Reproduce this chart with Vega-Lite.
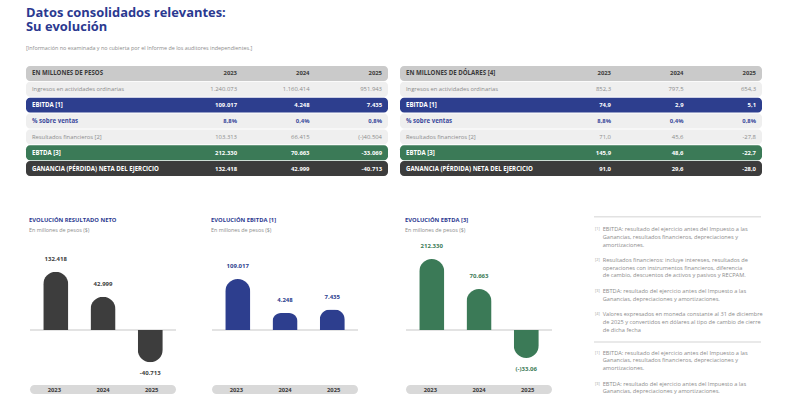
{
  "$schema": "https://vega.github.io/schema/vega-lite/v6.json",
  "padding": {"left": 26, "top": 6, "right": 0, "bottom": 0},
  "background": "white",
  "config": {"view": {"stroke": null}, "font": "Open Sans"},
  "title": {
    "text": ["Datos consolidados relevantes:", "Su evolución"],
    "subtitle": "[Información no examinada y no cubierta por el Informe de los auditores independientes.]",
    "anchor": "start",
    "font": "Open Sans", "fontSize": 12.9, "fontWeight": "bold", "lineHeight": 14, "color": "#2b3990",
    "subtitleFont": "Open Sans", "subtitleFontSize": 5.4, "subtitleColor": "#8c8c8c", "subtitlePadding": 12,
    "offset": 15
  },
  "datasets": {
    "tab": [
      {"t": "p", "k": "h", "label": "EN MILLONES DE PESOS", "2023": "2023", "2024": "2024", "2025": "2025"},
      {"t": "p", "k": "ing", "label": "Ingresos en actividades ordinarias", "2023": "1.240.073", "2024": "1.160.414", "2025": "951.943"},
      {"t": "p", "k": "ebitda", "label": "EBITDA [1]", "2023": "109.017", "2024": "4.248", "2025": "7.435"},
      {"t": "p", "k": "pct", "label": "% sobre ventas", "2023": "8,8%", "2024": "0,4%", "2025": "0,8%"},
      {"t": "p", "k": "rf", "label": "Resultados financieros [2]", "2023": "103.313", "2024": "66.415", "2025": "(-)40.504"},
      {"t": "p", "k": "ebtda", "label": "EBTDA [3]", "2023": "212.330", "2024": "70.663", "2025": "-33.069"},
      {"t": "p", "k": "gan", "label": "GANANCIA (PÉRDIDA) NETA DEL EJERCICIO", "2023": "132.418", "2024": "42.999", "2025": "-40.713"},
      {"t": "d", "k": "h", "label": "EN MILLONES DE DÓLARES [4]", "2023": "2023", "2024": "2024", "2025": "2025"},
      {"t": "d", "k": "ing", "label": "Ingresos en actividades ordinarias", "2023": "852,3", "2024": "797,5", "2025": "654,3"},
      {"t": "d", "k": "ebitda", "label": "EBITDA [1]", "2023": "74,9", "2024": "2,9", "2025": "5,1"},
      {"t": "d", "k": "pct", "label": "% sobre ventas", "2023": "8,8%", "2024": "0,4%", "2025": "0,8%"},
      {"t": "d", "k": "rf", "label": "Resultados financieros [2]", "2023": "71,0", "2024": "45,6", "2025": "-27,8"},
      {"t": "d", "k": "ebtda", "label": "EBTDA [3]", "2023": "145,9", "2024": "48,6", "2025": "-22,7"},
      {"t": "d", "k": "gan", "label": "GANANCIA (PÉRDIDA) NETA DEL EJERCICIO", "2023": "91,0", "2024": "29,6", "2025": "-28,0"}
    ],
    "bars": [
      {"c": "neto", "year": "2023", "v": 132418, "lbl": "132.418"},
      {"c": "neto", "year": "2024", "v": 42999, "lbl": "42.999"},
      {"c": "neto", "year": "2025", "v": -40713, "lbl": "-40.713"},
      {"c": "ebitda", "year": "2023", "v": 109017, "lbl": "109.017"},
      {"c": "ebitda", "year": "2024", "v": 4248, "lbl": "4.248"},
      {"c": "ebitda", "year": "2025", "v": 7435, "lbl": "7.435"},
      {"c": "ebtda", "year": "2023", "v": 212330, "lbl": "212.330"},
      {"c": "ebtda", "year": "2024", "v": 70663, "lbl": "70.663"},
      {"c": "ebtda", "year": "2025", "v": -33069, "lbl": "(-)33.06"}
    ],
    "notes": [
      {"ln": 0, "mk": "[1]", "txt": "EBITDA: resultado del ejercicio antes del Impuesto a las"},
      {"ln": 1, "txt": "Ganancias, resultados financieros, depreciaciones y"},
      {"ln": 2, "txt": "amortizaciones."},
      {"ln": 4, "mk": "[2]", "txt": "Resultados financieros: incluye intereses, resultados de"},
      {"ln": 5, "txt": "operaciones con instrumentos financieros, diferencia"},
      {"ln": 6, "txt": "de cambio, descuentos de activos y pasivos y RECPAM."},
      {"ln": 8, "mk": "[3]", "txt": "EBTDA: resultado del ejercicio antes del Impuesto a las"},
      {"ln": 9, "txt": "Ganancias, depreciaciones y amortizaciones."},
      {"ln": 11, "mk": "[4]", "txt": "Valores expresados en moneda constante al 31 de diciembre"},
      {"ln": 12, "txt": "de 2025 y convertidos en dólares al tipo de cambio de cierre"},
      {"ln": 13, "txt": "de dicha fecha"},
      {"ln": 16, "mk": "[1]", "txt": "EBITDA: resultado del ejercicio antes del Impuesto a las"},
      {"ln": 17, "txt": "Ganancias, resultados financieros, depreciaciones y"},
      {"ln": 18, "txt": "amortizaciones."},
      {"ln": 20, "mk": "[3]", "txt": "EBTDA: resultado del ejercicio antes del Impuesto a las"},
      {"ln": 21, "txt": "Ganancias, depreciaciones y amortizaciones."}
    ]
  },
  "spacing": 39,
  "vconcat": [
    {
      "spacing": 12,
      "hconcat": [
        {
          "width": 362, "height": 110,
          "data": {"name": "tab"},
          "transform": [{"filter": "datum.t == 'p'"}],
          "encoding": {"y": {"field": "k", "type": "nominal", "scale": {"domain": ["h", "ing", "ebitda", "pct", "rf", "ebtda", "gan"], "paddingInner": 0.06, "paddingOuter": 0}, "axis": null}},
          "layer": [
            {"mark": {"type": "rect", "cornerRadius": 4}, "encoding": {"x": {"value": 0}, "x2": {"value": "width"}, "fill": {"field": "k", "type": "nominal", "scale": {"domain": ["h", "ing", "ebitda", "pct", "rf", "ebtda", "gan"], "range": ["#cacaca", "#efefef", "#2d3e8e", "#efefef", "#efefef", "#3b7a57", "#3c3c3c"]}, "legend": null}}},
            {"transform": [{"filter": "datum.k != 'ing' && datum.k != 'rf'"}], "mark": {"type": "text", "align": "left", "baseline": "middle", "x": 6, "fontSize": 6.1, "fontWeight": "bold"}, "encoding": {"text": {"field": "label"}, "color": {"field": "k", "type": "nominal", "scale": {"domain": ["h", "ing", "ebitda", "pct", "rf", "ebtda", "gan"], "range": ["#3a3a3a", "#8c8c8c", "#ffffff", "#3b4a9c", "#8c8c8c", "#ffffff", "#ffffff"]}, "legend": null}}},
            {"transform": [{"filter": "datum.k == 'ing' || datum.k == 'rf'"}], "mark": {"type": "text", "align": "left", "baseline": "middle", "x": 6, "fontSize": 5.8}, "encoding": {"text": {"field": "label"}, "color": {"field": "k", "type": "nominal", "legend": null}}},
            {"transform": [{"fold": ["2023", "2024", "2025"], "as": ["year", "val"]}, {"filter": "datum.k != 'ing' && datum.k != 'rf'"}], "mark": {"type": "text", "align": "right", "baseline": "middle", "fontSize": 5.9, "fontWeight": "bold"}, "encoding": {"x": {"field": "year", "type": "ordinal", "scale": {"type": "point", "domain": ["2023", "2024", "2025"], "range": [211, 356], "padding": 0}, "axis": null}, "text": {"field": "val"}, "color": {"field": "k", "type": "nominal", "legend": null}}},
            {"transform": [{"fold": ["2023", "2024", "2025"], "as": ["year", "val"]}, {"filter": "datum.k == 'ing' || datum.k == 'rf'"}], "mark": {"type": "text", "align": "right", "baseline": "middle", "fontSize": 5.9}, "encoding": {"x": {"field": "year", "type": "ordinal", "scale": {"type": "point", "domain": ["2023", "2024", "2025"], "range": [211, 356], "padding": 0}, "axis": null}, "text": {"field": "val"}, "color": {"field": "k", "type": "nominal", "legend": null}}}
          ]
        },
        {
          "width": 362, "height": 110,
          "data": {"name": "tab"},
          "transform": [{"filter": "datum.t == 'd'"}],
          "encoding": {"y": {"field": "k", "type": "nominal", "scale": {"domain": ["h", "ing", "ebitda", "pct", "rf", "ebtda", "gan"], "paddingInner": 0.06, "paddingOuter": 0}, "axis": null}},
          "layer": [
            {"mark": {"type": "rect", "cornerRadius": 4}, "encoding": {"x": {"value": 0}, "x2": {"value": "width"}, "fill": {"field": "k", "type": "nominal", "scale": {"domain": ["h", "ing", "ebitda", "pct", "rf", "ebtda", "gan"], "range": ["#cacaca", "#efefef", "#2d3e8e", "#efefef", "#efefef", "#3b7a57", "#3c3c3c"]}, "legend": null}}},
            {"transform": [{"filter": "datum.k != 'ing' && datum.k != 'rf'"}], "mark": {"type": "text", "align": "left", "baseline": "middle", "x": 6, "fontSize": 6.1, "fontWeight": "bold"}, "encoding": {"text": {"field": "label"}, "color": {"field": "k", "type": "nominal", "scale": {"domain": ["h", "ing", "ebitda", "pct", "rf", "ebtda", "gan"], "range": ["#3a3a3a", "#8c8c8c", "#ffffff", "#3b4a9c", "#8c8c8c", "#ffffff", "#ffffff"]}, "legend": null}}},
            {"transform": [{"filter": "datum.k == 'ing' || datum.k == 'rf'"}], "mark": {"type": "text", "align": "left", "baseline": "middle", "x": 6, "fontSize": 5.8}, "encoding": {"text": {"field": "label"}, "color": {"field": "k", "type": "nominal", "legend": null}}},
            {"transform": [{"fold": ["2023", "2024", "2025"], "as": ["year", "val"]}, {"filter": "datum.k != 'ing' && datum.k != 'rf'"}], "mark": {"type": "text", "align": "right", "baseline": "middle", "fontSize": 5.9, "fontWeight": "bold"}, "encoding": {"x": {"field": "year", "type": "ordinal", "scale": {"type": "point", "domain": ["2023", "2024", "2025"], "range": [211, 356], "padding": 0}, "axis": null}, "text": {"field": "val"}, "color": {"field": "k", "type": "nominal", "legend": null}}},
            {"transform": [{"fold": ["2023", "2024", "2025"], "as": ["year", "val"]}, {"filter": "datum.k == 'ing' || datum.k == 'rf'"}], "mark": {"type": "text", "align": "right", "baseline": "middle", "fontSize": 5.9}, "encoding": {"x": {"field": "year", "type": "ordinal", "scale": {"type": "point", "domain": ["2023", "2024", "2025"], "range": [211, 356], "padding": 0}, "axis": null}, "text": {"field": "val"}, "color": {"field": "k", "type": "nominal", "legend": null}}}
          ]
        }
      ]
    },
    {
      "spacing": 34,
      "hconcat": [
        {
          "spacing": 2,
          "hconcat": [
            {"width": 1, "height": 1, "data": {"values": [{}]}, "mark": {"type": "text", "text": ""}},
            {
              "spacing": 7,
              "vconcat": [
                {
                  "width": 146, "height": 138,
                  "title": {"text": "EVOLUCIÓN RESULTADO NETO", "subtitle": "En millones de pesos ($)", "anchor": "start", "font": "Open Sans", "fontSize": 5.8, "fontWeight": "bold", "color": "#2b3990", "subtitleFont": "Open Sans", "subtitleFontSize": 5.4, "subtitleColor": "#8c8c8c", "subtitlePadding": 5, "offset": 7},
                  "data": {"name": "bars"},
                  "transform": [{"filter": "datum.c == 'neto'"}],
                  "layer": [
                    {"mark": {"type": "rule", "color": "#e3e3e3", "strokeWidth": 2}, "encoding": {"y": {"datum": 0, "type": "quantitative", "scale": {"type": "sqrt", "domain": [-90000, 316406], "nice": false, "zero": false}, "axis": null}}},
                    {"transform": [{"filter": "datum.v >= 0"}], "mark": {"type": "bar", "color": "#3d3d3d", "cornerRadiusTopLeft": 12.5, "cornerRadiusTopRight": 12.5}, "encoding": {"x": {"field": "year", "type": "ordinal", "scale": {"paddingInner": 0.47, "paddingOuter": 0.28}, "axis": null}, "y": {"field": "v", "type": "quantitative", "axis": null}}},
                    {"transform": [{"filter": "datum.v < 0"}], "mark": {"type": "bar", "color": "#3d3d3d", "cornerRadiusBottomLeft": 12.5, "cornerRadiusBottomRight": 12.5}, "encoding": {"x": {"field": "year", "type": "ordinal", "axis": null}, "y": {"field": "v", "type": "quantitative", "axis": null}}},
                    {"transform": [{"filter": "datum.v >= 0"}], "mark": {"type": "text", "baseline": "middle", "dy": -13, "fontSize": 6, "fontWeight": "bold", "color": "#3d3d3d"}, "encoding": {"x": {"field": "year", "type": "ordinal", "axis": null}, "y": {"field": "v", "type": "quantitative", "axis": null}, "text": {"field": "lbl"}}},
                    {"transform": [{"filter": "datum.v < 0"}], "mark": {"type": "text", "baseline": "middle", "dy": 11, "fontSize": 6, "fontWeight": "bold", "color": "#3d3d3d"}, "encoding": {"x": {"field": "year", "type": "ordinal", "axis": null}, "y": {"field": "v", "type": "quantitative", "axis": null}, "text": {"field": "lbl"}}}
                  ]
                },
                {
                  "width": 146, "height": 9,
                  "view": {"fill": "#d9d9d9", "cornerRadius": 4.5, "stroke": null},
                  "data": {"name": "bars"},
                  "transform": [{"filter": "datum.c == 'neto'"}],
                  "mark": {"type": "text", "baseline": "middle", "fontSize": 5.8, "fontWeight": "bold", "color": "#3a3a3a"},
                  "encoding": {"x": {"field": "year", "type": "ordinal", "scale": {"paddingInner": 0.47, "paddingOuter": 0.28}, "axis": null}, "text": {"field": "year"}}
                }
              ]
            }
          ]
        },
        {
          "spacing": 46,
          "hconcat": [
            {
              "spacing": 7,
              "vconcat": [
                {
                  "width": 146, "height": 138,
                  "title": {"text": "EVOLUCIÓN EBITDA [1]", "subtitle": "En millones de pesos ($)", "anchor": "start", "font": "Open Sans", "fontSize": 5.8, "fontWeight": "bold", "color": "#2b3990", "subtitleFont": "Open Sans", "subtitleFontSize": 5.4, "subtitleColor": "#8c8c8c", "subtitlePadding": 5, "offset": 7},
                  "data": {"name": "bars"},
                  "transform": [{"filter": "datum.c == 'ebitda'"}],
                  "layer": [
                    {"mark": {"type": "rule", "color": "#e3e3e3", "strokeWidth": 2}, "encoding": {"y": {"datum": 0, "type": "quantitative", "scale": {"type": "pow", "exponent": 0.34, "domain": [-91100, 579560], "nice": false, "zero": false}, "axis": null}}},
                    {"transform": [{"filter": "datum.v >= 0"}], "mark": {"type": "bar", "color": "#2d3e8e", "cornerRadiusTopLeft": 12.5, "cornerRadiusTopRight": 12.5}, "encoding": {"x": {"field": "year", "type": "ordinal", "scale": {"paddingInner": 0.47, "paddingOuter": 0.28}, "axis": null}, "y": {"field": "v", "type": "quantitative", "axis": null}}},
                    {"transform": [{"filter": "datum.v >= 0"}], "mark": {"type": "text", "baseline": "middle", "dy": -13, "fontSize": 6, "fontWeight": "bold", "color": "#2d3e8e"}, "encoding": {"x": {"field": "year", "type": "ordinal", "axis": null}, "y": {"field": "v", "type": "quantitative", "axis": null}, "text": {"field": "lbl"}}}
                  ]
                },
                {
                  "width": 146, "height": 9,
                  "view": {"fill": "#d9d9d9", "cornerRadius": 4.5, "stroke": null},
                  "data": {"name": "bars"},
                  "transform": [{"filter": "datum.c == 'ebitda'"}],
                  "mark": {"type": "text", "baseline": "middle", "fontSize": 5.8, "fontWeight": "bold", "color": "#3a3a3a"},
                  "encoding": {"x": {"field": "year", "type": "ordinal", "scale": {"paddingInner": 0.47, "paddingOuter": 0.28}, "axis": null}, "text": {"field": "year"}}
                }
              ]
            },
            {
              "spacing": 40,
              "hconcat": [
                {
                  "spacing": 7,
                  "vconcat": [
                    {
                      "width": 146, "height": 138,
                      "title": {"text": "EVOLUCIÓN EBTDA [3]", "subtitle": "En millones de pesos ($)", "anchor": "start", "font": "Open Sans", "fontSize": 5.8, "fontWeight": "bold", "color": "#2b3990", "subtitleFont": "Open Sans", "subtitleFontSize": 5.4, "subtitleColor": "#8c8c8c", "subtitlePadding": 5, "offset": 7},
                      "data": {"name": "bars"},
                      "transform": [{"filter": "datum.c == 'ebtda'"}],
                      "layer": [
                        {"mark": {"type": "rule", "color": "#e3e3e3", "strokeWidth": 2}, "encoding": {"y": {"datum": 0, "type": "quantitative", "scale": {"type": "sqrt", "domain": [-97150, 341546], "nice": false, "zero": false}, "axis": null}}},
                        {"transform": [{"filter": "datum.v >= 0"}], "mark": {"type": "bar", "color": "#3b7a57", "cornerRadiusTopLeft": 12.5, "cornerRadiusTopRight": 12.5}, "encoding": {"x": {"field": "year", "type": "ordinal", "scale": {"paddingInner": 0.47, "paddingOuter": 0.28}, "axis": null}, "y": {"field": "v", "type": "quantitative", "axis": null}}},
                        {"transform": [{"filter": "datum.v < 0"}], "mark": {"type": "bar", "color": "#3b7a57", "cornerRadiusBottomLeft": 12.5, "cornerRadiusBottomRight": 12.5}, "encoding": {"x": {"field": "year", "type": "ordinal", "axis": null}, "y": {"field": "v", "type": "quantitative", "axis": null}}},
                        {"transform": [{"filter": "datum.v >= 0"}], "mark": {"type": "text", "baseline": "middle", "dy": -13, "fontSize": 6, "fontWeight": "bold", "color": "#3b7a57"}, "encoding": {"x": {"field": "year", "type": "ordinal", "axis": null}, "y": {"field": "v", "type": "quantitative", "axis": null}, "text": {"field": "lbl"}}},
                        {"transform": [{"filter": "datum.v < 0"}], "mark": {"type": "text", "baseline": "middle", "dy": 11, "fontSize": 6, "fontWeight": "bold", "color": "#3b7a57"}, "encoding": {"x": {"field": "year", "type": "ordinal", "axis": null}, "y": {"field": "v", "type": "quantitative", "axis": null}, "text": {"field": "lbl"}}}
                      ]
                    },
                    {
                      "width": 146, "height": 9,
                      "view": {"fill": "#d9d9d9", "cornerRadius": 4.5, "stroke": null},
                      "data": {"name": "bars"},
                      "transform": [{"filter": "datum.c == 'ebtda'"}],
                      "mark": {"type": "text", "baseline": "middle", "fontSize": 5.8, "fontWeight": "bold", "color": "#3a3a3a"},
                      "encoding": {"x": {"field": "year", "type": "ordinal", "scale": {"paddingInner": 0.47, "paddingOuter": 0.28}, "axis": null}, "text": {"field": "year"}}
                    }
                  ]
                },
                {
                  "width": 167, "height": 160,
                  "layer": [
                    {"data": {"values": [{}]}, "mark": {"type": "rule", "color": "#e2e2e2", "strokeWidth": 1.5}, "encoding": {"y": {"datum": -1.6, "type": "quantitative", "scale": {"domain": [1.414, 22.11], "reverse": true, "nice": false, "zero": false}, "axis": null}}},
                    {"data": {"values": [{}]}, "mark": {"type": "rule", "color": "#e2e2e2", "strokeWidth": 1.5}, "encoding": {"y": {"datum": 14.6, "type": "quantitative", "axis": null}}},
                    {"data": {"name": "notes"}, "mark": {"type": "text", "align": "left", "baseline": "middle", "x": 8.7, "fontSize": 5.65, "color": "#8c8c8c"}, "encoding": {"y": {"field": "ln", "type": "quantitative", "axis": null}, "text": {"field": "txt"}}},
                    {"data": {"name": "notes"}, "transform": [{"filter": "datum.mk"}], "mark": {"type": "text", "align": "left", "baseline": "middle", "x": 1, "fontSize": 3.8, "color": "#a0a0a0"}, "encoding": {"y": {"field": "ln", "type": "quantitative", "axis": null}, "text": {"field": "mk"}}}
                  ]
                }
              ]
            }
          ]
        }
      ]
    }
  ]
}
